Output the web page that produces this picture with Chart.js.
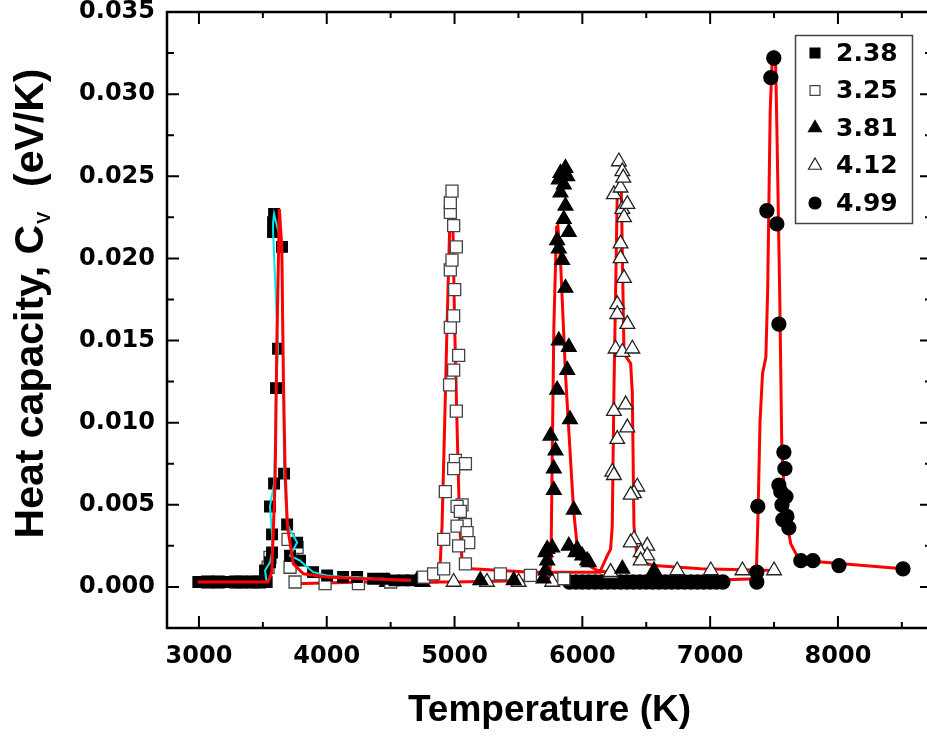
<!DOCTYPE html>
<html>
<head>
<meta charset="utf-8">
<title>Heat capacity vs temperature</title>
<script src="https://cdn.jsdelivr.net/npm/chart.js@4.4.1/dist/chart.umd.min.js"></script>
<style>
  html, body { margin: 0; padding: 0; background: #fff; overflow: hidden; }
  #clip { width: 927px; height: 737px; overflow: hidden; }
  #wrap { width: 934px; height: 737px; }
  #chart { display: block; }
</style>
</head>
<body>
<div id="clip"><div id="wrap"><canvas id="chart" width="934" height="737"></canvas></div></div>
<script>
// axis ticks
const xTicks = [3000, 4000, 5000, 6000, 7000, 8000];
const xMinor = [3500, 4500, 5500, 6500, 7500, 8500];
const yTicks = [0, 0.005, 0.010, 0.015, 0.020, 0.025, 0.030, 0.035];
const yMinor = [0.0025, 0.0075, 0.0125, 0.0175, 0.0225, 0.0275, 0.0325];

const seriesLabels = ['2.38', '3.25', '3.81', '4.12', '4.99'];

// 2.38 - filled squares (joined by the cyan line)
const t238 = [2995, 3040, 3085, 3130, 3175, 3220, 3265, 3310, 3355, 3400, 3445, 3490, 3530,
  3517, 3556, 3572, 3572, 3556, 3588, 3603, 3619, 3580, 3580, 3588,
  3650, 3666, 3690, 3768, 3713, 3791, 3893, 4003, 4128, 4238, 4363, 4450, 4530, 4600, 4660];
const cv238 = [0.0003, 0.0003, 0.0003, 0.0003, 0.0003, 0.0003, 0.0003, 0.0003, 0.0003, 0.0003, 0.0003, 0.0003, 0.0003,
  0.0010, 0.0015, 0.0021, 0.0032, 0.0049, 0.0063, 0.0121, 0.0145, 0.0216, 0.0222, 0.0227,
  0.0207, 0.0069, 0.0038, 0.0027, 0.0019, 0.0016, 0.0009, 0.0007, 0.0006, 0.0006, 0.0005, 0.0005, 0.0004, 0.0004, 0.0004];

// 3.25 - open squares
const t325 = [3070, 3150, 3290, 3330, 3420, 3470, 3541, 3556, 3697, 3729, 3768, 3713, 3752, 3987, 4248, 4500, 4758, 4836, 4915, 4915,
  4928, 4961, 4967, 4967, 4980, 4967, 4967, 4980, 4993, 5014, 5001, 4993, 5032, 4993, 5014, 5006, 5085, 4993, 5059, 5020,
  5045, 5085, 5020, 5098, 5111, 5032, 5085, 5359, 5594, 5855];
const cv325 = [0.0003, 0.0003, 0.0003, 0.0003, 0.0003, 0.0003, 0.0012, 0.0018, 0.0029, 0.0018, 0.0024, 0.0012, 0.0003, 0.0002, 0.0002, 0.0003, 0.0006, 0.0008, 0.0011, 0.0029,
  0.0058, 0.0123, 0.0158, 0.0193, 0.0199, 0.0228, 0.0234, 0.0241, 0.0220, 0.0207, 0.0181, 0.0165, 0.0141, 0.0132, 0.0107, 0.0077, 0.0075, 0.0072, 0.0050, 0.0049,
  0.0046, 0.0038, 0.0037, 0.0033, 0.0027, 0.0025, 0.0014, 0.0008, 0.0007, 0.0005];

// 3.81 - filled triangles
const t381 = [4471, 4706, 4750, 5202, 5463, 5696, 5712, 5725, 5712, 5725, 5764, 5751, 5777, 5777, 5790, 5803, 5816, 5803,
  5816, 5842, 5816, 5829, 5829, 5855, 5868, 5882, 5868, 5855, 5894, 5868, 5894, 5882, 5903, 5933, 5894, 5947,
  5960, 5999, 6038, 6051, 6313, 6561];
const cv381 = [0.0003, 0.0004, 0.0003, 0.0004, 0.0004, 0.0005, 0.0010, 0.0016, 0.0021, 0.0023, 0.0024, 0.0092, 0.0059, 0.0072, 0.0083, 0.0120, 0.0150, 0.0211,
  0.0206, 0.0199, 0.0248, 0.0240, 0.0252, 0.0245, 0.0255, 0.0250, 0.0232, 0.0224, 0.0216, 0.0182, 0.0146, 0.0132, 0.0102, 0.0047, 0.0025, 0.0021,
  0.0023, 0.0019, 0.0016, 0.0015, 0.0011, 0.0010];

// 4.12 - open triangles
const t412 = [4993, 5254, 5502, 5764, 6221, 6221, 6234, 6247, 6273, 6247, 6260, 6273, 6273, 6247, 6286, 6299, 6313, 6320,
  6313, 6326, 6352, 6299, 6299, 6326, 6352, 6313, 6391, 6339, 6352, 6430, 6404, 6378, 6404, 6378, 6508,
  6456, 6508, 6456, 6742, 7005, 7253, 7500];
const cv412 = [0.0003, 0.0003, 0.0003, 0.0003, 0.0008, 0.0009, 0.0070, 0.0068, 0.0090, 0.0107, 0.0145, 0.0172, 0.0166, 0.0239, 0.0259, 0.0243, 0.0253, 0.0249,
  0.0230, 0.0225, 0.0233, 0.0209, 0.0200, 0.0188, 0.0160, 0.0143, 0.0145, 0.0111, 0.0097, 0.0061, 0.0057, 0.0056, 0.0029, 0.0027, 0.0025,
  0.0021, 0.0019, 0.0016, 0.0010, 0.0010, 0.0010, 0.0010];

// 4.99 - filled circles
const t499 = [5900, 5950, 6000, 6050, 6100, 6150, 6200, 6250, 6300, 6350, 6400, 6450, 6500, 6550, 6600, 6650, 6700,
  6750, 6800, 6850, 6900, 6950, 7000, 7050, 7100, 7365, 7365, 7373, 7444, 7475, 7498, 7522, 7538, 7577,
  7585, 7538, 7553, 7593, 7562, 7601, 7569, 7616, 7710, 7804, 8008, 8509];
const cv499 = [0.0003, 0.0003, 0.0003, 0.0003, 0.0003, 0.0003, 0.0003, 0.0003, 0.0003, 0.0003, 0.0003, 0.0003, 0.0003, 0.0003, 0.0003, 0.0003, 0.0003,
  0.0003, 0.0003, 0.0003, 0.0003, 0.0003, 0.0003, 0.0003, 0.0003, 0.0003, 0.0009, 0.0049, 0.0229, 0.0310, 0.0322, 0.0221, 0.0160, 0.0082,
  0.0072, 0.0062, 0.0058, 0.0055, 0.0050, 0.0043, 0.0041, 0.0036, 0.0016, 0.0016, 0.0013, 0.0011];

// red fitted curves
const fitT238 = [2990, 3540, 3570, 3596, 3609, 3629, 3648, 3661, 3674, 3692, 3739, 3817, 4000, 4300, 4660];
const fitCv238 = [0.0003, 0.0003, 0.0009, 0.0065, 0.0146, 0.0230, 0.0207, 0.0126, 0.0071, 0.0037, 0.0014, 0.0008, 0.0006, 0.0005, 0.0004];
const fitT325 = [3740, 4300, 4860, 4889, 4902, 4922, 4941, 4961, 4975, 4988, 5001, 5020, 5040, 5059, 5137, 5600, 6150];
const fitCv325 = [0.0002, 0.0003, 0.0003, 0.0016, 0.0037, 0.0097, 0.0158, 0.0216, 0.0220, 0.0216, 0.0158, 0.0097, 0.0037, 0.0016, 0.0011, 0.0009, 0.0009];
const fitT381 = [4400, 5000, 5740, 5755, 5764, 5777, 5798, 5808, 5829, 5869, 5908, 5931, 5962, 6002, 6119, 6200];
const fitCv381 = [0.0003, 0.0003, 0.0004, 0.0018, 0.0077, 0.0158, 0.0219, 0.0220, 0.0199, 0.0128, 0.0077, 0.0047, 0.0023, 0.0015, 0.0010, 0.0009];
const fitT412 = [6100, 6142, 6195, 6221, 6234, 6247, 6273, 6291, 6305, 6326, 6378, 6391, 6404, 6430, 6561, 6926, 7500];
const fitCv412 = [0.0009, 0.0010, 0.0019, 0.0023, 0.0037, 0.0118, 0.0239, 0.0248, 0.0240, 0.0142, 0.0136, 0.0118, 0.0037, 0.0016, 0.0013, 0.0011, 0.0010];
const fitT499 = [5880, 7000, 7360, 7375, 7390, 7410, 7436, 7450, 7470, 7485, 7500, 7512, 7522, 7545, 7561, 7593, 7632, 7687, 7750, 8509];
const fitCv499 = [0.0003, 0.0004, 0.0005, 0.0045, 0.0100, 0.0130, 0.0140, 0.0180, 0.0290, 0.0320, 0.0324, 0.0320, 0.0280, 0.0175, 0.0083, 0.0041, 0.0026, 0.0018, 0.0016, 0.0011];

function pts(ts, cvs) {
    return ts.map((t, i) => ({ x: t, y: cvs[i] }));
}

const tickFont = { family: '"DejaVu Sans", sans-serif', size: 24, weight: 'bold' };
const titleFamily = '"Liberation Sans", Arial, sans-serif';

function fitLine(ts, cvs, order) {
    return {
        type: 'line', data: pts(ts, cvs), showLine: true, pointRadius: 0,
        borderColor: '#ff0000', borderWidth: 3, fill: false, tension: 0, order: order
    };
}

function markers(label, ts, cvs, style, radius, fillColor, edgeColor) {
    return {
        label: label, data: pts(ts, cvs), showLine: false, inLegend: true,
        pointStyle: style, pointRadius: radius, pointHoverRadius: radius,
        pointBackgroundColor: fillColor, pointBorderColor: edgeColor, pointBorderWidth: 1.3,
        order: 5
    };
}

const datasets = [
    fitLine(fitT238, fitCv238, 0),
    fitLine(fitT325, fitCv325, 10),
    fitLine(fitT381, fitCv381, 10),
    fitLine(fitT412, fitCv412, 10),
    fitLine(fitT499, fitCv499, 10),
    markers(seriesLabels[0], t238, cv238, 'rect', 7.5, '#000', '#000'),
    markers(seriesLabels[1], t325, cv325, 'rect', 8.5, '#fff', '#444'),
    markers(seriesLabels[2], t381, cv381, 'triangle', 8.5, '#000', '#000'),
    markers(seriesLabels[3], t412, cv412, 'triangle', 8.5, '#fff', '#222'),
    markers(seriesLabels[4], t499, cv499, 'circle', 7, '#000', '#000'),
    // cyan line through the 2.38 points, drawn over the squares
    {
        type: 'line', data: pts(t238, cv238), showLine: true, pointRadius: 0,
        borderColor: '#00e8f0', borderWidth: 2, fill: false, tension: 0, order: 1
    }
];

// frame with inward ticks on all four sides
const framePlugin = {
    id: 'frame',
    afterDatasetsDraw(chart) {
        const { ctx, chartArea: a, scales: { x, y } } = chart;
        ctx.save();
        ctx.strokeStyle = '#000';
        ctx.lineWidth = 2;
        ctx.beginPath();
        const xt = (v, len) => {
            const p = x.getPixelForValue(v);
            ctx.moveTo(p, a.bottom); ctx.lineTo(p, a.bottom - len);
            ctx.moveTo(p, a.top); ctx.lineTo(p, a.top + len);
        };
        const yt = (v, len) => {
            const p = y.getPixelForValue(v);
            ctx.moveTo(a.left, p); ctx.lineTo(a.left + len, p);
            ctx.moveTo(a.right, p); ctx.lineTo(a.right - len, p);
        };
        xTicks.forEach(v => xt(v, 12));
        xMinor.forEach(v => xt(v, 6));
        yTicks.forEach(v => yt(v, 12));
        yMinor.forEach(v => yt(v, 7));
        ctx.stroke();
        ctx.lineWidth = 2.5;
        ctx.strokeRect(a.left, a.top, a.right - a.left, a.bottom - a.top);
        ctx.restore();
    }
};

// legend box in the upper right and the y axis title with its subscript
const extrasPlugin = {
    id: 'extras',
    afterDraw(chart) {
        const ctx = chart.ctx;
        ctx.save();

        // legend
        const bx = 795, by = 35, bw = 117, bh = 188;
        ctx.fillStyle = '#fff';
        ctx.fillRect(bx, by, bw, bh);
        ctx.strokeStyle = '#444';
        ctx.lineWidth = 1.5;
        ctx.strokeRect(bx + 0.5, by + 0.5, bw, bh);
        const sizes = { rect: 7, triangle: 7.5, circle: 6 };
        let row = 0;
        chart.data.datasets.forEach(ds => {
            if (!ds.inLegend) return;
            const cy = 53 + row * 37.5;
            ctx.fillStyle = ds.pointBackgroundColor;
            ctx.strokeStyle = ds.pointBorderColor;
            ctx.lineWidth = 1.2;
            Chart.helpers.drawPoint(ctx, {
                pointStyle: ds.pointStyle, radius: sizes[ds.pointStyle], borderWidth: 1.2, rotation: 0
            }, 815, cy);
            ctx.fillStyle = '#000';
            ctx.font = 'bold 25px "DejaVu Sans", sans-serif';
            ctx.textAlign = 'left';
            ctx.textBaseline = 'middle';
            ctx.fillText(ds.label, 836, cy + 1);
            row++;
        });

        // y title: Heat capacity, C_V (eV/K)
        const bigFont = 'bold 41px ' + titleFamily;
        const subFont = 'bold 18px ' + titleFamily;
        const p1 = 'Heat capacity, C';
        const sub = 'V';
        const p2 = '  (eV/K)';
        ctx.font = bigFont;
        const w1 = ctx.measureText(p1).width;
        const w2 = ctx.measureText(p2).width;
        ctx.font = subFont;
        const ws = ctx.measureText(sub).width + 2;
        const total = w1 + ws + w2;
        ctx.translate(43, 304);
        ctx.rotate(-Math.PI / 2);
        ctx.fillStyle = '#000';
        ctx.textAlign = 'left';
        ctx.textBaseline = 'alphabetic';
        let pos = -total / 2;
        ctx.font = bigFont;
        ctx.fillText(p1, pos, 0);
        pos += w1 + 1;
        ctx.font = subFont;
        ctx.fillText(sub, pos, 7);
        pos += ws;
        ctx.font = bigFont;
        ctx.fillText(p2, pos, 0);

        ctx.restore();
    }
};

new Chart(document.getElementById('chart'), {
    type: 'scatter',
    data: { datasets: datasets },
    options: {
        responsive: false,
        animation: false,
        layout: { autoPadding: false, padding: { left: 0, right: 2, top: 12, bottom: 0 } },
        plugins: {
            legend: { display: false },
            tooltip: { enabled: false }
        },
        scales: {
            x: {
                type: 'linear',
                min: 2750,
                max: 8736,
                grid: { display: false, drawTicks: false },
                border: { display: false },
                ticks: {
                    font: tickFont, color: '#000', padding: 14, maxRotation: 0, autoSkip: false,
                    callback: v => String(v)
                },
                afterBuildTicks: s => { s.ticks = xTicks.map(v => ({ value: v })); },
                afterFit: s => { s.height = 109; s.paddingLeft = 0; s.paddingRight = 0; },
                title: {
                    display: true,
                    text: 'Temperature (K)',
                    color: '#000',
                    font: { family: titleFamily, size: 37, weight: 'bold' },
                    padding: { top: 0, bottom: 4 }
                }
            },
            y: {
                type: 'linear',
                min: -0.0025,
                max: 0.035,
                grid: { display: false, drawTicks: false },
                border: { display: false },
                ticks: {
                    font: tickFont, color: '#000', padding: 12,
                    callback: v => v.toFixed(3)
                },
                afterBuildTicks: s => { s.ticks = yTicks.map(v => ({ value: v })); },
                afterFit: s => { s.width = 167; s.paddingTop = 0; s.paddingBottom = 0; }
            }
        }
    },
    plugins: [framePlugin, extrasPlugin]
});
</script>
</body>
</html>
